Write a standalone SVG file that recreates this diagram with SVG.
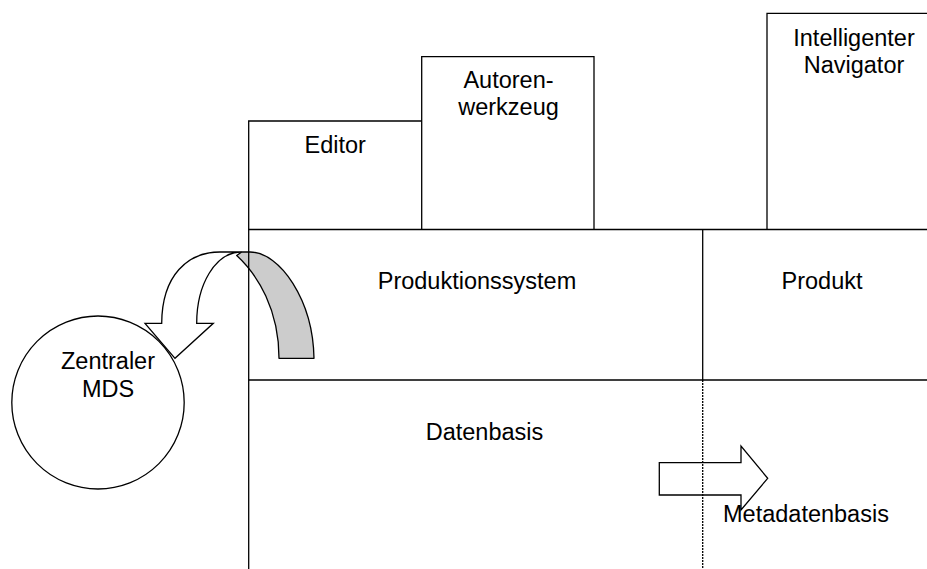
<svg xmlns="http://www.w3.org/2000/svg" width="927" height="569" viewBox="0 0 927 569">
<style>
.ln{stroke:#000;stroke-width:1.3;fill:none}
.bx{stroke:#000;stroke-width:1.3;fill:#fff}
.t{font-family:"Liberation Sans",Arial,sans-serif;font-size:23.5px;fill:#000}
.c{text-anchor:middle}
.dot{stroke:#000;stroke-width:1.3;stroke-dasharray:2 1;fill:none}
</style>
<rect width="927" height="569" fill="#fff"/>
<g id="mds">
<ellipse cx="98" cy="402.5" rx="86.2" ry="86.5" class="bx"/>
<text class="t c" x="108" y="369.3">Zentraler</text>
<text class="t c" x="108" y="396.7">MDS</text>
</g>
<g id="editor">
<path class="ln" d="M248.7,229.5 V121 H421.7"/>
<text class="t c" x="335.2" y="153.3">Editor</text>
</g>
<g id="autorenwerkzeug">
<path class="ln" d="M421.7,229.5 V56.7 H594 V229.5"/>
<text class="t c" x="508.5" y="88.3">Autoren-</text>
<text class="t c" x="508.5" y="115.3">werkzeug</text>
</g>
<g id="navigator">
<path class="ln" d="M767,229.5 V13.3 H930"/>
<text class="t c" x="854" y="45.7">Intelligenter</text>
<text class="t c" x="854" y="72.7">Navigator</text>
</g>
<g id="produktionssystem">
<path class="ln" d="M248.7,229.5 H927 M248.7,380 H927"/>
<text class="t c" x="477" y="289">Produktionssystem</text>
</g>
<g id="produkt">
<path class="ln" d="M702.7,229.5 V380"/>
<text class="t c" x="822" y="289">Produkt</text>
</g>
<g id="datenbasis">
<text class="t c" x="484.5" y="440">Datenbasis</text>
</g>
<g id="metadatenbasis">
<path class="dot" d="M702.7,380 V569"/>
<text class="t" x="723" y="522">Metadatenbasis</text>
</g>
<g id="connectors">
<path class="bx" d="M161.7,323.3 C162,275 188,252 220,252 H241.7 C215,252 196.7,285 196.7,323.3 H213.3 L175,358.3 L145,323.3 Z"/>
<path d="M241.7,252 H250 C280,252 313,300 314,358.3 H279 C279,310 258,275 236.7,255.5 Z" fill="#cccccc" stroke="#000" stroke-width="1.3" stroke-linejoin="round"/>
<path class="ln" d="M659.3,462.7 H741 V446 L767.7,478.3 L741,510 V495 H659.3 Z"/>
</g>
<path id="mainline" class="ln" d="M248.7,229 V569"/>
</svg>
